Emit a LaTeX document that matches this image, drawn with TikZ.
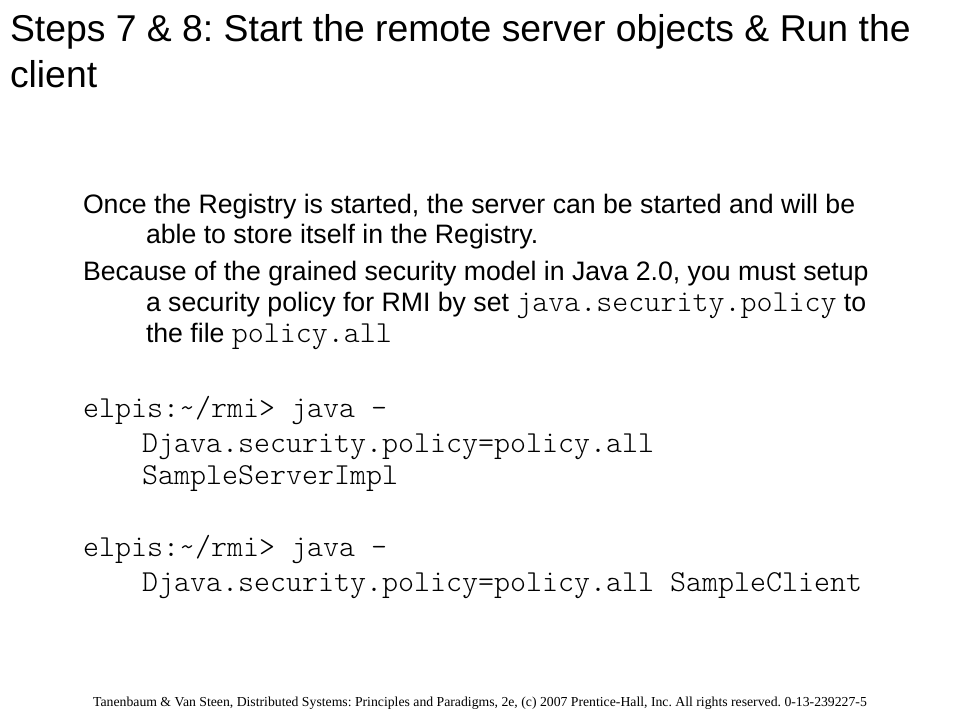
\documentclass[tikz,border=0pt]{standalone}
\usepackage{fontspec}
\setmainfont{Liberation Sans}
\newfontfamily\cdfont{lmmonolt10-regular.otf}
\newfontfamily\footfont{Liberation Serif}
\newcommand{\cdtext}[1]{{\cdfont\fontsize{22.86}{26}\selectfont #1}}
\frenchspacing

\begin{document}
\begin{tikzpicture}
[x=0.75pt,y=-0.75pt
,ln/.style={anchor=base west,inner sep=0pt,outer sep=0pt}
,ttl/.style={ln,font=\fontsize{28}{34}\selectfont}
,txt/.style={ln,font=\fontsize{20}{24}\selectfont}
,cd/.style={ln,font=\cdfont\fontsize{22.86}{26}\selectfont}
,ft/.style={anchor=base,inner sep=0pt,font=\footfont\fontsize{10.3}{12}\selectfont}]
\useasboundingbox (0,0) rectangle (960,720);
% title
\node[ttl] (t1) at (10,42) {Steps 7 \& 8: Start the remote server objects \& Run the};
\node[ttl] (t2) at (10,88) {client};
% body
\node[txt] (p1a) at (83,214) {Once the Registry is started, the server can be started and will be};
\node[txt] (p1b) at (146,244) {able to store itself in the Registry.};
\node[txt] (p2a) at (83,281) {Because of the grained security model in Java 2.0, you must setup};
\node[txt] (p2b) at (146,311) {a security policy for RMI by set \cdtext{java.security.policy} to};
\node[txt] (p2c) at (146,342) {the file \cdtext{policy.all}};
% commands
\node[cd] (c1a) at (83,417) {elpis:\textasciitilde/rmi> java –};
\node[cd] (c1b) at (142,452) {Djava.security.policy=policy.all};
\node[cd] (c1c) at (142,484) {SampleServerImpl};
\node[cd] (c2a) at (83,556) {elpis:\textasciitilde/rmi> java –};
\node[cd] (c2b) at (142,591) {Djava.security.policy=policy.all SampleClient};
% footer
\node[ft] (fn) at (480,706) {Tanenbaum \& Van Steen, Distributed Systems: Principles and Paradigms, 2e, (c) 2007 Prentice-Hall, Inc. All rights reserved. 0-13-239227-5};
\end{tikzpicture}
\end{document}
